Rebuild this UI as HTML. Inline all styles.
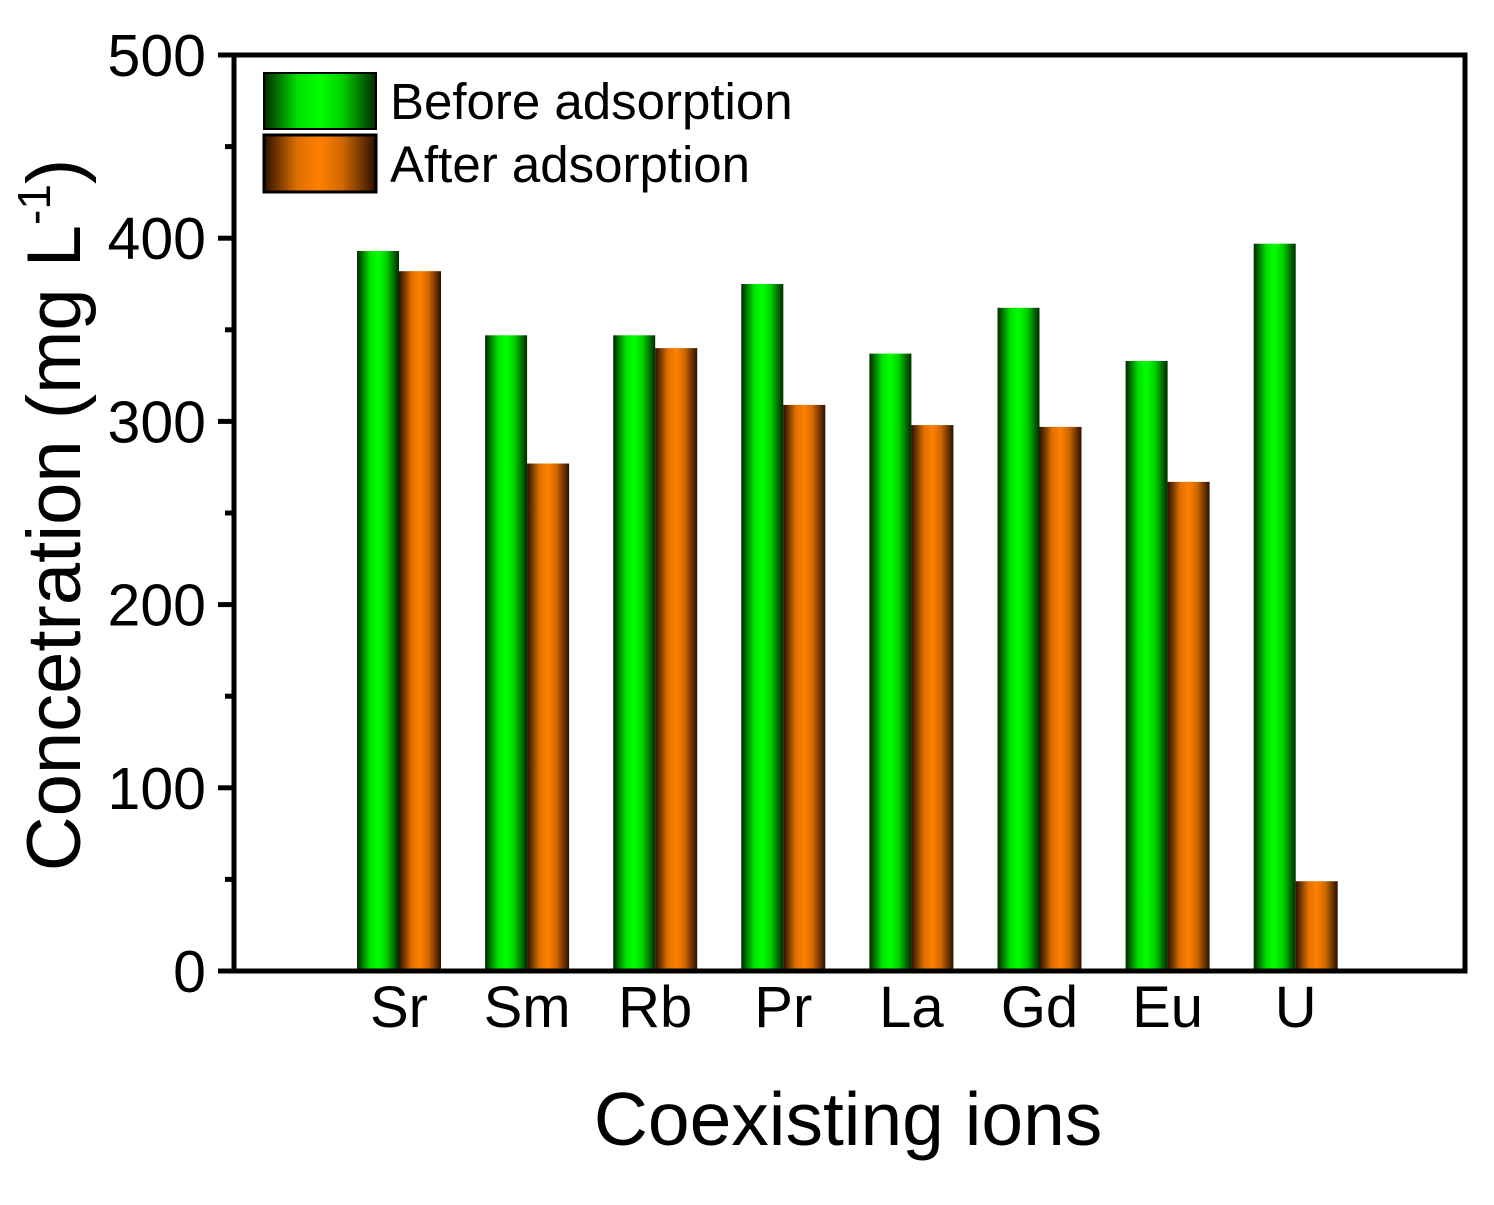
<!DOCTYPE html>
<html><head><meta charset="utf-8"><style>
body{margin:0;background:#fff}
text{font-family:"Liberation Sans",Arial,sans-serif;fill:#000}
</style></head><body>
<svg id="c" width="1494" height="1200">
<defs>
<linearGradient id="gG" x1="0" x2="1" y1="0" y2="0">
<stop offset="0" stop-color="#002a00"/><stop offset="0.3" stop-color="#00e000"/><stop offset="0.5" stop-color="#00ff00"/><stop offset="0.7" stop-color="#00d000"/><stop offset="1" stop-color="#002a00"/>
</linearGradient>
<linearGradient id="gO" x1="0" x2="1" y1="0" y2="0">
<stop offset="0" stop-color="#2a1000"/><stop offset="0.3" stop-color="#e07000"/><stop offset="0.5" stop-color="#ff8000"/><stop offset="0.7" stop-color="#d06800"/><stop offset="1" stop-color="#2a1000"/>
</linearGradient>
</defs>
<g id="bars"></g>
<g id="axes"></g>
</svg>
<script>
const categories=["Sr","Sm","Rb","Pr","La","Gd","Eu","U"];
const before=[393,347,347,375,337,362,333,397];
const after=[382,277,340,309,298,297,267,49];
const yTicks=[0,100,200,300,400,500];
const NS="http://www.w3.org/2000/svg";
const svg=document.getElementById('c');
const L=234,R=1465,T=55,B=971;
const y=v=>B-(v/500)*(B-T);
const x=i=>399+i*128.1;
const bw=42;
function mk(tag,attrs,parent){const e=document.createElementNS(NS,tag);for(const k in attrs)e.setAttribute(k,attrs[k]);(parent||svg).appendChild(e);return e;}
const gb=document.getElementById('bars'),ga=document.getElementById('axes');
categories.forEach((c,i)=>{
  const b=mk('rect',{x:x(i)-bw,y:y(before[i]),width:bw,height:B-y(before[i]),fill:'url(#gG)'},gb);
  
  
  const a=mk('rect',{x:x(i),y:y(after[i]),width:bw,height:B-y(after[i]),fill:'url(#gO)'},gb);
  
  
  const t=mk('text',{x:x(i),y:1027,'font-size':58,'text-anchor':'middle'},ga);
  t.textContent=c;
  
  
});
mk('rect',{x:L,y:T,width:R-L,height:B-T,fill:'none',stroke:'#000','stroke-width':5},ga);
yTicks.forEach(v=>{
  mk('line',{x1:L-16,x2:L,y1:y(v),y2:y(v),stroke:'#000','stroke-width':5},ga);
  if(v<500)mk('line',{x1:L-9,x2:L,y1:y(v+50),y2:y(v+50),stroke:'#000','stroke-width':5},ga);
  const t=mk('text',{x:L-28,y:y(v)+21,'font-size':59,'text-anchor':'end'},ga);
  t.textContent=v;
  
  
});
</script>
<svg style="position:absolute;left:0;top:0" width="1494" height="1200">
<text x="848" y="1145" font-size="75" text-anchor="middle">Coexisting ions</text>
<text transform="translate(80,515) rotate(-90)" font-size="76" text-anchor="middle">Concetration (mg L<tspan dy="-30" font-size="46">-1</tspan><tspan dy="30">)</tspan></text>
<rect x="264" y="73" width="112" height="56" fill="url(#gG)" stroke="#000" stroke-width="2"/>
<rect x="264" y="135" width="112" height="57" fill="url(#gO)" stroke="#000" stroke-width="3"/>
<text x="390" y="119" font-size="51">Before adsorption</text>
<text x="390" y="182" font-size="51">After adsorption</text>
</svg>
</body></html>
